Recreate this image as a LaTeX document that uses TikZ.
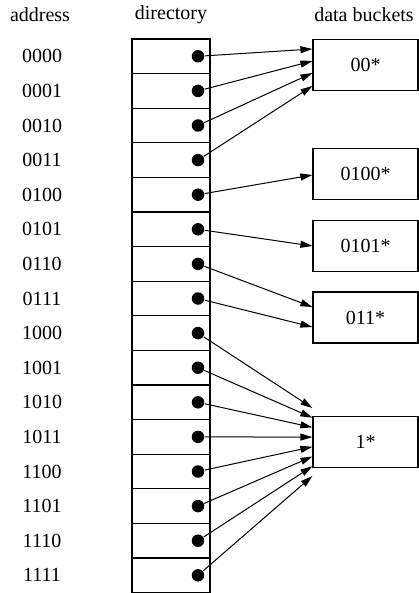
\documentclass[tikz,border=0pt]{standalone}
\usepackage{fontspec}
\setmainfont{Liberation Serif}
\usetikzlibrary{arrows.meta}

\begin{document}
\begin{tikzpicture}[x=1pt, y=-1pt, line width=1.2pt,
        every node/.style={font=\fontsize{20}{24}\selectfont},
        cell/.style={draw, minimum width=78pt, minimum height=34.6pt, inner sep=0pt},
        dot/.style={circle, fill=black, inner sep=0pt, minimum size=12.5pt},
        bucket/.style={draw, minimum width=105pt, minimum height=51pt, inner sep=0pt},
        ptr/.style={line width=1pt, -{Triangle[length=12pt, width=7pt]}}]
        \useasboundingbox (0,0) rectangle (419,593);

        \node (haddr) at (40,15) {address};
        \node (hdir) at (171,15) {directory};
        \node (hbuck) at (364,15) {data buckets};

        \foreach \r/\lbl in {0/0000, 1/0001, 2/0010, 3/0011, 4/0100, 5/0101, 6/0110, 7/0111,
                8/1000, 9/1001, 10/1010, 11/1011, 12/1100, 13/1101, 14/1110, 15/1111} {
            \node[cell] (c\r) at (171, 56.3+34.6*\r) {};
            \node[dot] (d\r) at (198, 56.3+34.6*\r) {};
            \node (a\r) at (42, 56.3+34.6*\r) {\lbl};
        }

        \node[bucket] (b00) at (365.5,65) {00*};
        \node[bucket] (b0100) at (365.5,174) {0100*};
        \node[bucket] (b0101) at (365.5,246) {0101*};
        \node[bucket] (b011) at (365.5,317.5) {011*};
        \node[bucket] (b1) at (365.5,442) {1*};

        \foreach \r/\b/\y in {0/b00/49, 1/b00/61, 2/b00/73, 3/b00/86, 4/b0100/175,
                5/b0101/246, 6/b011/307, 7/b011/327, 8/b1/408, 9/b1/417.7, 10/b1/427.4,
                11/b1/437.1, 12/b1/446.8, 13/b1/456.5, 14/b1/466.2, 15/b1/476}
            \draw[ptr] (d\r) -- (\b.west |- 0,\y);
    \end{tikzpicture}
\end{document}
